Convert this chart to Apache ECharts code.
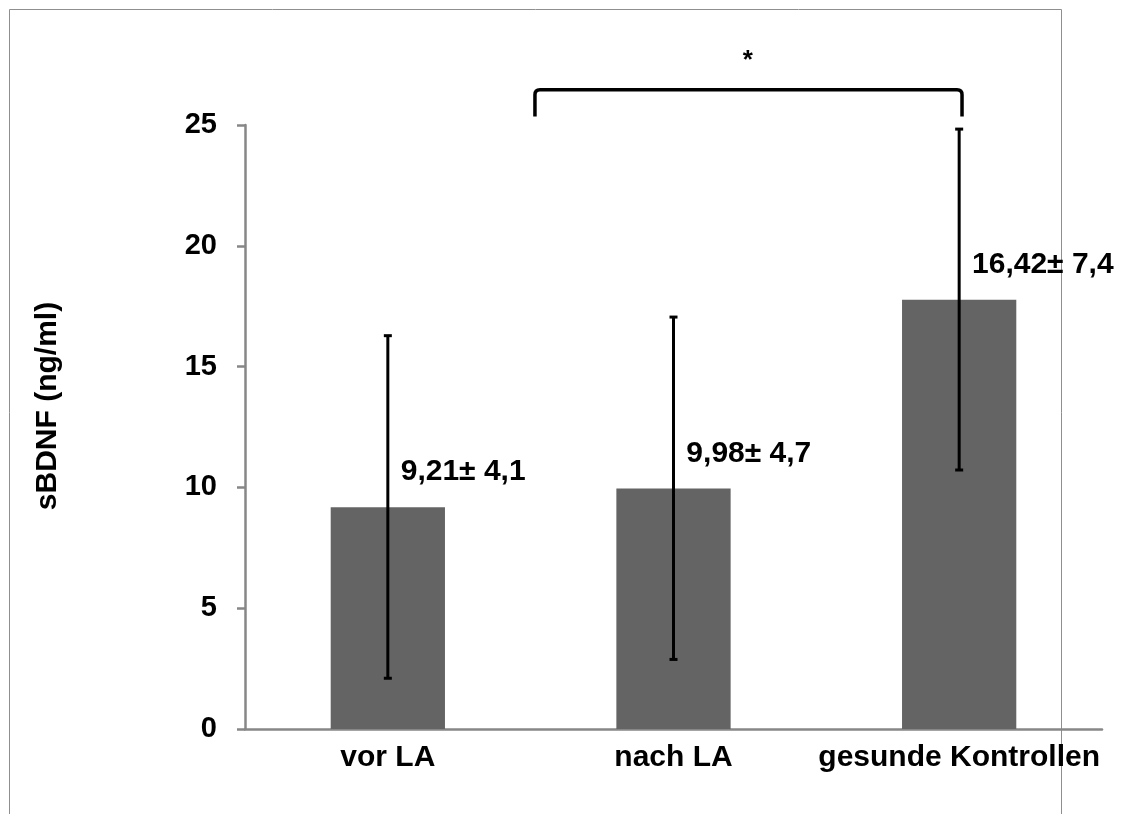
<!DOCTYPE html>
<html>
<head>
<meta charset="utf-8">
<script src="https://cdn.jsdelivr.net/npm/echarts@6/dist/echarts.min.js"></script>
<style>
  html, body { margin: 0; padding: 0; background: #fff; }
  #chart { width: 1127px; height: 814px; }
</style>
</head>
<body>
<div id="chart"></div>
<script>
// data
const categories = ['vor LA', 'nach LA', 'gesunde Kontrollen'];
const means = [9.18, 9.95, 17.77];
const errLow = [2.1, 2.88, 10.72];
const errHigh = [16.28, 17.05, 24.83];
const valueLabels = ['9,21\u00b1 4,1', '9,98\u00b1 4,7', '16,42\u00b1 7,4'];
// significance bracket (x in category index, y in axis units)
const bracketX = [0.515, 2.01];
const bracketY = [25.35, 26.46];
const starPos = [1.26, 27.65];

const font = 'Liberation Sans, Arial, sans-serif';
const axisGray = '#878787';

var myChart = echarts.init(document.getElementById('chart'));

// pixel x for a fractional category position, from the axis' own coords
function catX(api, v, y) {
  var i = Math.floor(v);
  var p0 = api.coord([i, y]);
  var p1 = api.coord([i + 1, y]);
  return [p0[0] + (v - i) * (p1[0] - p0[0]), p0[1]];
}

myChart.setOption({
  animation: false,
  grid: { left: 245, right: 25, top: 125, bottom: 85 },
  graphic: [{
    type: 'rect',
    shape: { x: 9.5, y: 9.5, width: 1052, height: 900 },
    style: { fill: 'none', stroke: '#8f8f8f', lineWidth: 1 },
    silent: true
  }],
  xAxis: {
    type: 'category',
    data: categories,
    axisLine: { lineStyle: { color: axisGray, width: 2.5 } },
    axisTick: { show: false },
    axisLabel: { interval: 0, hideOverlap: false, color: '#000', fontSize: 30, fontWeight: 'bold', fontFamily: font, margin: 14 }
  },
  yAxis: {
    type: 'value',
    min: 0,
    max: 25,
    interval: 5,
    name: 'sBDNF (ng/ml)',
    nameLocation: 'middle',
    nameGap: 182,
    nameTextStyle: { color: '#000', fontSize: 30, fontWeight: 'bold', fontFamily: font, padding: [0, 0, 0, 42] },
    axisLine: { show: true, lineStyle: { color: axisGray, width: 2.5 } },
    axisTick: { show: true, length: 8, lineStyle: { color: axisGray, width: 2.5 } },
    splitLine: { show: false },
    axisLabel: { color: '#000', fontSize: 29, fontWeight: 'bold', fontFamily: font, margin: 28 }
  },
  series: [
    {
      type: 'bar',
      data: means,
      barWidth: '40%',
      itemStyle: { color: '#646464' },
      label: {
        show: true,
        position: [70, -35],
        align: 'left',
        verticalAlign: 'middle',
        formatter: p => valueLabels[p.dataIndex],
        color: '#000',
        fontSize: 30,
        fontWeight: 'bold',
        fontFamily: font
      },
      z: 2
    },
    {
      // error bars
      type: 'custom',
      data: categories.map((c, i) => [i, errLow[i], errHigh[i]]),
      renderItem: function (params, api) {
        var lo = api.coord([api.value(0), api.value(1)]);
        var hi = api.coord([api.value(0), api.value(2)]);
        var cap = 4;
        var st = { stroke: '#000', lineWidth: 3 };
        return {
          type: 'group',
          children: [
            { type: 'line', shape: { x1: lo[0], y1: lo[1], x2: hi[0], y2: hi[1] }, style: st },
            { type: 'line', shape: { x1: lo[0] - cap, y1: lo[1], x2: lo[0] + cap, y2: lo[1] }, style: st },
            { type: 'line', shape: { x1: hi[0] - cap, y1: hi[1], x2: hi[0] + cap, y2: hi[1] }, style: st }
          ]
        };
      },
      z: 3
    },
    {
      // significance bracket and star
      type: 'custom',
      clip: false,
      data: [[bracketX[0], bracketX[1], bracketY[0], bracketY[1], starPos[0], starPos[1]]],
      renderItem: function (params, api) {
        var a = catX(api, bracketX[0], bracketY[0]);
        var b = catX(api, bracketX[0], bracketY[1]);
        var c = catX(api, bracketX[1], bracketY[1]);
        var d = catX(api, bracketX[1], bracketY[0]);
        var s = catX(api, starPos[0], starPos[1]);
        var r = 5;
        return {
          type: 'group',
          children: [
            {
              type: 'path',
              shape: {
                pathData: 'M' + a[0] + ' ' + a[1] +
                  ' L' + b[0] + ' ' + (b[1] + r) +
                  ' Q' + b[0] + ' ' + b[1] + ' ' + (b[0] + r) + ' ' + b[1] +
                  ' L' + (c[0] - r) + ' ' + c[1] +
                  ' Q' + c[0] + ' ' + c[1] + ' ' + c[0] + ' ' + (c[1] + r) +
                  ' L' + d[0] + ' ' + d[1]
              },
              style: { stroke: '#000', lineWidth: 3.5, fill: 'none' }
            },
            {
              type: 'text',
              x: s[0], y: s[1],
              style: { text: '*', fill: '#000', font: 'bold 26px ' + font, align: 'center', verticalAlign: 'middle' }
            }
          ]
        };
      },
      z: 4
    }
  ]
});
</script>
</body>
</html>
